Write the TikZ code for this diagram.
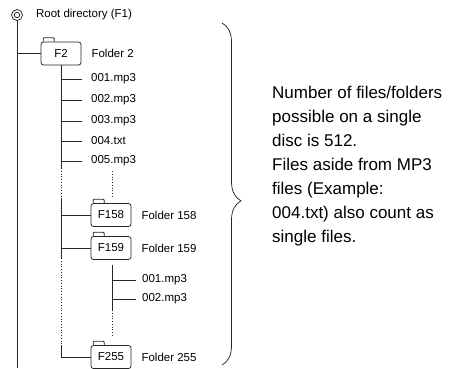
\documentclass[tikz,border=0pt]{standalone}
\usepackage{fontspec}
\setmainfont{Liberation Sans}
\usetikzlibrary{positioning,decorations.pathreplacing}

\newcommand\treefont{\fontsize{11.5}{13}\selectfont}
\newcommand\notefont{\fontsize{17}{24}\selectfont}

\tikzset{
    tree/.style={line width=0.75pt, draw=black!85},
    dotline/.style={tree, dotted},
    folder/.style={tree, rounded corners=2.5pt, minimum width=40pt,
        minimum height=23pt, inner sep=0pt, font=\treefont},
    item/.style={anchor=west, inner xsep=9pt, inner ysep=1pt, font=\treefont},
    label/.style={right=10pt of #1, inner sep=0pt, font=\treefont}
}

\begin{document}
\begin{tikzpicture}[x=1pt, y=-1pt]
    \useasboundingbox (0, 0) rectangle (458, 368);
    \pgfmathsetmacro\trunk{61};
    \pgfmathsetmacro\sub{112};

    % root
    \node[circle, tree, draw, minimum size=11pt, inner sep=0pt] (root) at (17, 15) {};
    \node[circle, tree, draw, minimum size=5.5pt, inner sep=0pt] at (root) {};
    \node[right=13pt of root, inner sep=0pt, font=\treefont] (rootlabel) {Root directory (F1)};
    \coordinate (bottom) at (17, 368);
    \draw[tree] (root.south) -- (bottom);

    % folder 2 and its files
    \node[folder, draw] (f2) at (\trunk, 53.5) {F2};
    \node[label=f2] (f2label) {Folder 2};
    \draw[tree] (root.south |- f2.west) -- (f2.west);

    \foreach \ind/\y/\data in {1/79/001.mp3, 2/100/002.mp3, 3/121/003.mp3,
        4/141/004.txt, 5/161/005.mp3} {
        \node[item] (file\ind) at (82, \y) {\data};
        \draw[tree] (\trunk, \y) -- (file\ind.west);
    }
    \draw[tree] (f2.south) -- (\trunk, 168);
    \draw[dotline] (\trunk, 168) -- (\trunk, 198);
    \draw[dotline] (\sub, 171) -- (\sub, 197);
    \draw[tree] (\trunk, 198) -- (\trunk, 258);
    \draw[dotline] (\trunk, 258) -- (\trunk, 345);

    % folders 158, 159, 255
    \foreach \ind/\y in {158/215, 159/248, 255/357} {
        \node[folder, draw] (f\ind) at (111, \y) {F\ind};
        \node[label=f\ind] (f\ind label) {Folder \ind};
    }
    \draw[tree] (\trunk, 198) |- (f158.west);
    \draw[tree] (\trunk, 215) |- (f159.west);
    \draw[tree] (\trunk, 345) |- (f255.west);

    \foreach \f in {f2, f158, f159, f255}
    \draw[tree, rounded corners=1pt] ([xshift=2.5pt]\f.north west)
        -- ++(0, -4) -- ++(11, 0) -- ++(0, 4);

    % files in folder 159
    \coordinate (subtop) at (\sub, 265);
    \foreach \ind/\y/\data in {1/280/001.mp3, 2/299/002.mp3} {
        \node[item, inner xsep=6pt] (sfile\ind) at (136, \y) {\data};
        \draw[tree] (\sub, \y) -- (sfile\ind.west);
    }
    \draw[tree] (subtop) -- (\sub, 310);
    \draw[dotline] (\sub, 310) -- (\sub, 337);

    % brace and note
    \coordinate (bracetop) at (222, 23);
    \coordinate (bracebot) at (222, 365);
    \draw[tree, decorate, decoration={brace, amplitude=19pt, aspect=0.52}]
        (bracetop) -- (bracebot);
    \node[anchor=north west, align=left, inner sep=0pt, font=\notefont] (note)
        at (272, 86) {Number of files/folders\\possible on a single\\disc is 512.\\
        Files aside from MP3\\files (Example:\\004.txt) also count as\\single files.};
\end{tikzpicture}
\end{document}
